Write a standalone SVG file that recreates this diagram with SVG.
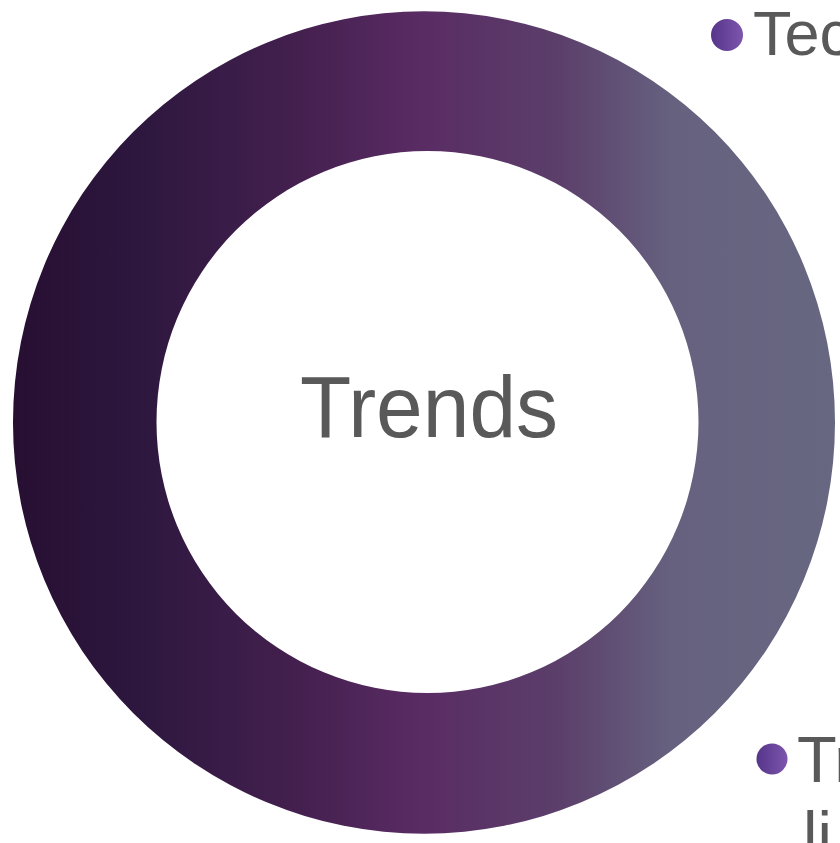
<svg xmlns="http://www.w3.org/2000/svg" width="840" height="843" viewBox="0 0 840 843">
  <defs>
    <linearGradient id="ringGrad" x1="0" y1="0" x2="1" y2="0">
      <stop offset="0" stop-color="#260f31"/>
      <stop offset="0.17" stop-color="#2f1840"/>
      <stop offset="0.35" stop-color="#44204f"/>
      <stop offset="0.49" stop-color="#592b63"/>
      <stop offset="0.66" stop-color="#5b3e6a"/>
      <stop offset="0.8" stop-color="#66617f"/>
      <stop offset="1" stop-color="#676781"/>
    </linearGradient>
    <linearGradient id="dotGrad" x1="0" y1="0" x2="1" y2="0">
      <stop offset="0" stop-color="#55358a"/>
      <stop offset="1" stop-color="#7d55ad"/>
    </linearGradient>
    <style>
      .label { font-family: "Liberation Sans", Arial, sans-serif; fill: #595959; }
      .dot { fill: url(#dotGrad); }
    </style>
  </defs>
  <rect width="840" height="843" fill="#ffffff"/>
  <g id="ring">
    <path fill="url(#ringGrad)" fill-rule="evenodd" d="M 13 422.5 A 411 411 0 1 0 835 422.5 A 411 411 0 1 0 13 422.5 Z M 156.5 422 A 271 271 0 1 1 698.5 422 A 271 271 0 1 1 156.5 422 Z"/>
    <text class="label" x="429" y="437" font-size="87" text-anchor="middle" textLength="258" lengthAdjust="spacingAndGlyphs">Trends</text>
  </g>
  <g id="bullet-top">
    <circle class="dot" cx="727" cy="35" r="16"/>
    <text class="label" x="753" y="55" font-size="63">Tec</text>
  </g>
  <g id="bullet-bottom">
    <circle class="dot" cx="772" cy="759" r="15.5"/>
    <text class="label" x="797" y="782" font-size="65">Tr</text>
    <text class="label" x="803" y="857" font-size="65">li</text>
  </g>
</svg>
